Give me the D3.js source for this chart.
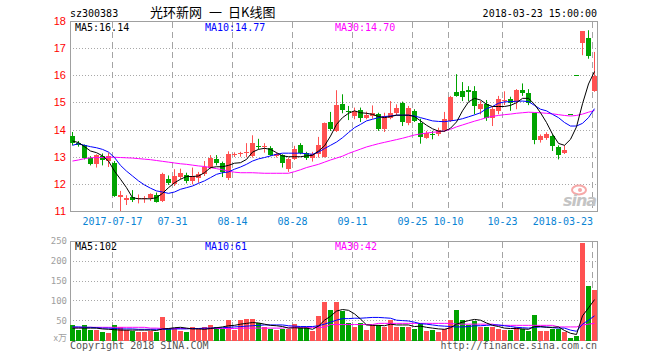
<!DOCTYPE html>
<html><head><meta charset="utf-8">
<script src="https://cdn.jsdelivr.net/npm/d3@7/dist/d3.min.js"></script>
<style>body{margin:0;background:#fff;}svg{display:block;}</style>
</head><body>
<svg id="c" width="660" height="360"></svg>
<script>
const dates = ["2017-07-06","2017-07-07","2017-07-10","2017-07-11","2017-07-12","2017-07-13","2017-07-14","2017-07-17","2017-07-18","2017-07-19",
"2017-07-20","2017-07-21","2017-07-24","2017-07-25","2017-07-26","2017-07-27","2017-07-28","2017-07-31","2017-08-01","2017-08-02",
"2017-08-03","2017-08-04","2017-08-07","2017-08-08","2017-08-09","2017-08-10","2017-08-11","2017-08-14","2017-08-15","2017-08-16",
"2017-08-17","2017-08-18","2017-08-21","2017-08-22","2017-08-23","2017-08-24","2017-08-25","2017-08-28","2017-08-29","2017-08-30",
"2017-08-31","2017-09-01","2017-09-04","2017-09-05","2017-09-06","2017-09-07","2017-09-08","2017-09-11","2017-09-12","2017-09-13",
"2017-09-14","2017-09-15","2017-09-18","2017-09-19","2017-09-20","2017-09-21","2017-09-22","2017-09-25","2017-09-26","2017-09-27",
"2017-09-28","2017-09-29","2017-10-09","2017-10-10","2017-10-11","2017-10-12","2017-10-13","2017-10-16","2017-10-17","2017-10-18",
"2017-10-19","2017-10-20","2017-10-23","2017-10-24","2017-10-25","2017-10-26","2017-10-27","2017-10-30","2017-10-31","2017-11-01",
"2017-11-02","2017-11-03","2017-11-06","2018-03-19","2018-03-20","2018-03-21","2018-03-22","2018-03-23"];

const open = [13.76,13.49,13.42,12.94,12.72,13.03,12.84,12.76,11.53,11.39,
11.52,11.43,11.43,11.49,11.58,11.37,12.17,11.98,12.27,12.31,
12.11,12.23,12.35,12.60,12.90,12.76,12.23,13.07,13.10,13.12,
13.03,13.39,13.37,13.33,13.04,13.05,12.54,12.93,13.42,13.15,
12.97,13.09,13.00,14.28,13.95,14.93,14.68,14.50,14.71,14.44,
14.50,14.56,14.03,14.42,14.62,14.97,14.26,14.68,14.26,13.70,
13.85,13.83,13.98,14.32,15.39,15.42,15.45,15.42,14.75,14.96,
14.44,14.69,15.05,15.14,15.05,15.46,15.34,14.60,13.62,13.70,
13.76,13.36,13.13,14.56,16.02,17.18,17.39,15.42];
const high = [13.91,13.58,13.45,13.02,13.09,13.12,13.15,12.84,11.74,11.58,
11.77,11.61,11.55,11.65,11.68,12.41,12.31,12.54,12.56,12.41,
12.60,12.44,12.84,13.06,13.06,12.82,13.20,13.16,13.18,13.50,
13.79,13.66,13.50,13.39,13.15,13.09,12.97,13.40,13.50,13.18,
13.18,13.73,14.26,14.65,15.45,15.30,14.87,14.81,14.81,14.66,
14.89,14.62,14.62,15.05,14.93,15.03,14.87,14.75,14.40,13.95,
13.95,14.07,14.65,15.24,16.04,15.75,15.60,15.60,15.05,15.09,
14.85,15.24,15.41,15.21,15.49,15.70,15.49,14.62,13.82,13.90,
13.83,13.42,13.42,14.56,16.02,17.62,17.66,16.86];
const low = [13.42,13.37,12.90,12.68,12.60,12.68,12.62,11.52,11.00,11.22,
11.33,11.28,11.30,11.37,11.31,11.33,11.96,11.92,12.17,12.02,
11.98,12.04,12.29,12.54,12.68,12.25,12.14,12.99,13.00,12.98,
12.97,13.27,13.15,13.03,12.97,12.60,12.44,12.88,13.09,12.88,
12.82,12.97,12.97,13.95,13.91,14.60,14.35,14.38,14.28,14.38,
14.40,13.95,13.91,14.38,14.52,14.13,14.16,14.28,13.48,13.66,
13.64,13.76,13.91,14.28,15.21,15.05,15.05,14.56,14.56,14.32,
14.13,14.56,14.90,14.69,14.75,15.24,14.90,13.46,13.52,13.62,
13.21,12.90,13.10,14.56,16.02,16.74,16.61,15.39];
const close = [13.49,13.42,12.94,12.72,13.06,12.88,13.03,11.55,11.58,11.49,
11.41,11.47,11.49,11.61,11.34,12.35,12.04,12.29,12.41,12.11,
12.29,12.35,12.62,12.97,12.76,12.44,13.09,13.10,13.13,13.16,
13.49,13.34,13.41,13.05,13.09,12.78,12.90,13.30,13.13,12.97,
13.09,13.42,14.23,14.03,14.89,14.72,14.64,14.68,14.42,14.54,
14.60,14.03,14.50,14.60,14.81,14.28,14.81,14.32,13.74,13.89,
13.80,13.98,14.38,15.21,15.24,15.21,15.40,14.87,14.93,14.44,
14.77,15.14,15.08,14.99,15.46,15.36,14.99,13.62,13.76,13.83,
13.40,13.05,13.24,14.56,16.02,17.62,16.72,15.98];
const volume = [39,24,39,24,24,19,17,39,32,26,
23,19,19,23,20,57,30,30,23,21,
34,28,34,39,33,28,50,26,50,54,
54,44,32,29,24,29,29,40,32,32,
22,61,95,75,95,72,43,34,43,26,
39,39,34,50,32,32,34,29,43,22,
24,19,28,51,76,50,39,47,32,32,
32,29,26,24,32,28,22,64,22,22,
29,29,19,4,9,246,137,127];

const ma5 = [13.58,13.52,13.37,13.21,13.15,13.03,12.84,12.47,12.17,11.86,
11.49,11.45,11.45,11.45,11.49,11.65,11.86,12.04,12.17,12.27,
12.27,12.29,12.41,12.60,12.63,12.63,12.68,12.76,12.78,12.90,
13.17,13.27,13.31,13.27,13.15,13.03,13.00,13.00,13.00,13.03,
13.05,13.21,13.40,13.76,14.19,14.44,14.60,14.69,14.62,14.60,
14.56,14.48,14.44,14.48,14.53,14.53,14.53,14.48,14.32,14.16,
14.03,13.94,13.94,14.05,14.28,14.69,15.02,15.15,15.09,14.93,
14.85,14.85,14.85,14.89,14.99,15.15,15.15,14.93,14.62,14.26,
13.83,13.49,13.42,13.64,14.10,14.95,15.68,16.14];
const ma10 = [13.42,13.48,13.42,13.37,13.33,13.27,13.17,12.97,12.68,12.47,
12.29,12.11,11.96,11.84,11.74,11.70,11.65,11.70,11.80,11.86,
11.92,12.02,12.11,12.23,12.35,12.41,12.44,12.54,12.62,12.72,
12.84,12.92,12.97,13.03,13.09,13.13,13.13,13.13,13.13,13.11,
13.09,13.17,13.30,13.42,13.54,13.70,13.89,14.07,14.19,14.32,
14.38,14.44,14.48,14.50,14.53,14.53,14.53,14.50,14.44,14.38,
14.32,14.30,14.29,14.32,14.35,14.40,14.47,14.54,14.62,14.77,
14.85,14.97,15.02,15.03,15.04,15.05,15.03,14.89,14.75,14.69,
14.56,14.44,14.26,14.13,14.13,14.23,14.44,14.77];
const ma30 = [12.84,12.88,12.93,12.96,12.97,12.97,12.98,12.98,12.97,12.96,
12.95,12.93,12.91,12.89,12.86,12.83,12.80,12.77,12.74,12.72,
12.69,12.66,12.64,12.60,12.56,12.52,12.47,12.43,12.41,12.41,
12.41,12.40,12.39,12.39,12.39,12.39,12.39,12.45,12.52,12.60,
12.66,12.72,12.80,12.88,12.95,13.02,13.12,13.20,13.28,13.36,
13.42,13.48,13.53,13.58,13.63,13.68,13.74,13.80,13.84,13.87,
13.90,13.92,13.95,14.01,14.10,14.17,14.24,14.31,14.37,14.44,
14.49,14.52,14.55,14.57,14.60,14.62,14.64,14.63,14.62,14.60,
14.58,14.55,14.52,14.50,14.52,14.57,14.64,14.70];

const vma5 = [30,30,30,30,30,28,27,26,25,25,
25,25,25,25,24,28,29,31,32,30,
28,28,27,29,31,33,36,37,40,42,
44,43,40,37,36,34,30,31,30,30,
27,35,50,60,73,77,75,66,53,38,
37,37,36,40,38,38,38,34,35,32,
30,28,27,31,40,45,49,52,50,43,
37,34,30,29,29,28,27,34,34,32,
32,33,24,17,14,61,81,102];
const vma10 = [33,33,32,32,31,30,30,29,28,28,
28,27,27,27,27,27,27,28,28,28,
29,29,30,30,31,31,32,33,34,35,
36,37,38,38,38,38,36,35,34,34,
34,36,40,45,50,54,54,55,55,56,
57,57,56,55,50,49,48,45,41,40,
38,36,35,34,33,33,34,36,36,37,
38,38,36,34,32,31,30,32,33,33,
31,30,30,25,22,40,50,61];
const vma30 = [32,32,32,32,32,32,32,32,32,32,
32,32,32,30,30,29,29,29,29,29,
29,29,29,29,29,29,29,29,30,30,
30,30,30,30,30,30,32,32,32,32,
32,32,32,39,39,39,39,39,39,39,
39,42,42,42,42,42,42,42,42,42,
42,42,42,42,40,40,40,40,40,40,
40,37,37,37,37,37,37,37,37,37,
37,33,33,33,33,38,40,42];

const priceTicks = [11,12,13,14,15,16,17,18];
const volTicks = [50,100,150,200,250];
const dateTicks = ["2017-07-17","2017-07-31","2017-08-14","2017-08-28","2017-09-11","2017-09-25","2017-10-10","2017-10-23","2018-03-23"];
const dateTickLabels = ["2017-07-17","07-31","08-14","08-28","09-11","09-25","10-10","10-23","2018-03-23"];

const stockCode = "sz300383";
const titleParts = ["光环新网", "一", "日K线图"];
const stamp = "2018-03-23 15:00:00";

const RED = "#ff5151", GREEN = "#00a300", MAGENTA = "#ff00ff", BLUE = "#0000ff";
const MONO = "'DejaVu Sans Mono', monospace";

const svg = d3.select("#c");
const L = 70, R = 597, PT = 21, PB = 211, VT = 241, VB = 340;

const x = d3.scaleBand().domain(dates).range([70, 598]).padding(0);
const y = d3.scaleLinear().domain([11, 18]).range([PB, PT]);
const yv = d3.scaleLinear().domain([0, 250]).range([VB, VT]);
const cx = d => x(d) + 2.5;

// grid
const grid = svg.append("g");
priceTicks.filter(t => t > 11 && t < 18).forEach(t => {
  const yy = Math.round(y(t)) + 0.5;
  grid.append("line").attr("x1", L).attr("x2", R).attr("y1", yy).attr("y2", yy)
    .attr("stroke", "#a8a8a8").attr("stroke-dasharray", "1,2");
});
volTicks.filter(t => t < 250).forEach(t => {
  const yy = Math.round(yv(t)) + 0.5;
  grid.append("line").attr("x1", L).attr("x2", R).attr("y1", yy).attr("y2", yy)
    .attr("stroke", "#a8a8a8").attr("stroke-dasharray", "1,2");
});
dateTicks.forEach(d => {
  const xx = x(d) + 0.5;
  [[PT, PB], [VT, VB]].forEach(([a, b]) => {
    grid.append("line").attr("x1", xx).attr("x2", xx).attr("y1", a + 1).attr("y2", b)
      .attr("stroke", "#a4a4a4").attr("stroke-dasharray", "6,4");
  });
});

// sina watermark
const wm = svg.append("g");
wm.append("ellipse").attr("cx", 579).attr("cy", 190).attr("rx", 7).attr("ry", 4.5)
  .attr("fill", "none").attr("stroke", "#f6a8a8").attr("stroke-width", 2);
wm.append("circle").attr("cx", 580).attr("cy", 190).attr("r", 2).attr("fill", "#f6a8a8");
wm.append("text").attr("x", 563).attr("y", 206).attr("font-family", "'DejaVu Sans'")
  .attr("font-weight", "bold").attr("font-style", "italic").attr("font-size", 16)
  .attr("textLength", 34).attr("fill", "#c4c4c4").text("sina");

// panel borders
[[PT, PB], [VT, VB]].forEach(([a, b]) => {
  svg.append("rect").attr("x", L + 0.5).attr("y", a + 0.5).attr("width", R - L).attr("height", b - a)
    .attr("fill", "none").attr("stroke", "#a0a0a0");
});

// candles
const cg = svg.append("g");
dates.forEach((d, i) => {
  const up = close[i] > open[i];
  const col = up ? RED : GREEN;
  cg.append("line").attr("x1", cx(d)).attr("x2", cx(d))
    .attr("y1", y(high[i])).attr("y2", y(low[i])).attr("stroke", col);
  const top = y(Math.max(open[i], close[i])), bot = y(Math.min(open[i], close[i]));
  cg.append("rect").attr("x", x(d)).attr("width", x.bandwidth() - 1)
    .attr("y", Math.round(top)).attr("height", Math.max(1, Math.round(bot) - Math.round(top)))
    .attr("fill", col).attr("shape-rendering", "crispEdges");
});

// price MA lines
const pline = d3.line().x((v, i) => cx(dates[i])).y(v => y(v));
[[ma30, MAGENTA], [ma10, BLUE], [ma5, "#000"]].forEach(([arr, col]) => {
  svg.append("path").attr("d", pline(arr)).attr("fill", "none").attr("stroke", col).attr("stroke-width", 1);
});

// volume bars
const vg = svg.append("g");
dates.forEach((d, i) => {
  const col = close[i] > open[i] ? RED : GREEN;
  vg.append("rect").attr("x", x(d)).attr("width", x.bandwidth() - 1)
    .attr("y", Math.round(yv(volume[i]))).attr("height", VB - Math.round(yv(volume[i])) + 1)
    .attr("fill", col).attr("shape-rendering", "crispEdges");
});
const vline = d3.line().x((v, i) => cx(dates[i])).y(v => yv(v));
[[vma30, MAGENTA], [vma10, BLUE], [vma5, "#000"]].forEach(([arr, col]) => {
  svg.append("path").attr("d", vline(arr)).attr("fill", "none").attr("stroke", col).attr("stroke-width", 1);
});

// axes
const ay = svg.append("g").attr("transform", `translate(${L},0)`)
  .call(d3.axisLeft(y).tickValues(priceTicks).tickSize(0).tickPadding(4).tickFormat(d3.format("d")));
ay.select(".domain").remove();
ay.selectAll("text").attr("fill", "#ff0000").attr("font-family", "'Liberation Sans', Arial").attr("font-size", 11);

const av = svg.append("g").attr("transform", `translate(${L},0)`)
  .call(d3.axisLeft(yv).tickValues(volTicks).tickSize(0).tickPadding(3));
av.select(".domain").remove();
av.selectAll("text").attr("fill", "#a0a0a0").attr("font-family", MONO).attr("font-size", 9);
svg.append("text").attr("x", 67).attr("y", 341).attr("text-anchor", "end")
  .attr("fill", "#a0a0a0").attr("font-family", "'Noto Sans CJK SC'").attr("font-size", 9).text("x万");

const ax = svg.append("g").attr("transform", `translate(0,${PB})`)
  .call(d3.axisBottom(x).tickValues(dateTicks).tickSize(0).tickPadding(7)
    .tickFormat(d => dateTickLabels[dateTicks.indexOf(d)]));
ax.select(".domain").remove();
ax.selectAll("text").attr("fill", "#0a84d4").attr("font-family", MONO).attr("font-size", 10).attr("dx", -2.5);
ax.selectAll("text").filter(d => d === dateTicks[dateTicks.length - 1]).attr("text-anchor", "end").attr("dx", -2);

// header texts
const txt = (xx, yy, s, col, fam, size, anchor) => svg.append("text").attr("x", xx).attr("y", yy)
  .attr("fill", col).attr("font-family", fam).attr("font-size", size).attr("text-anchor", anchor || "start").text(s);
txt(70, 17, stockCode, "#000", MONO, 10);
const tt = svg.append("text").attr("y", 17).attr("font-family", "'Noto Sans CJK SC'").attr("font-size", 13).attr("fill", "#000");
tt.append("tspan").attr("x", 150).text(titleParts[0]);
tt.append("tspan").attr("x", 209).text(titleParts[1]);
tt.append("tspan").attr("x", 228).text(titleParts[2]);
txt(597, 17, stamp, "#000", MONO, 10, "end");
const last = a => a[a.length - 1];
txt(75, 31, "MA5:" + last(ma5).toFixed(2), "#000", MONO, 10);
txt(205, 31, "MA10:" + last(ma10).toFixed(2), BLUE, MONO, 10);
txt(335, 31, "MA30:" + last(ma30).toFixed(2), MAGENTA, MONO, 10);
txt(75, 250, "MA5:" + last(vma5), "#000", MONO, 10);
txt(205, 250, "MA10:" + last(vma10), BLUE, MONO, 10);
txt(335, 250, "MA30:" + last(vma30), MAGENTA, MONO, 10);
txt(70, 349, "Copyright 2018 SINA.COM", "#555", MONO, 10);
txt(597, 349, "http://finance.sina.com.cn", "#555", MONO, 10, "end");
</script>
</body></html>
